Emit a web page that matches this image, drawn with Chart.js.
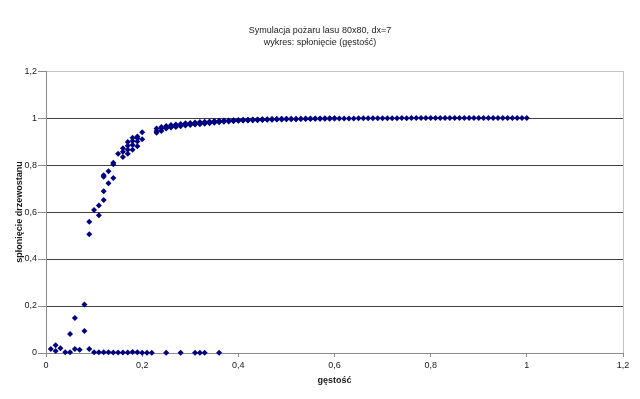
<!DOCTYPE html>
<html>
<head>
<meta charset="utf-8">
<script src="https://cdn.jsdelivr.net/npm/chart.js@4"></script>
<style>html,body{margin:0;padding:0;background:#fff}canvas{display:block}</style>
</head>
<body>
<canvas id="c" width="640" height="399"></canvas>
<script>
const titleLines = ['Symulacja pożaru lasu 80x80, dx=7', 'wykres: spłonięcie (gęstość)'];
const xAxisTitle = 'gęstość';
const yAxisTitle = 'spłonięcie drzewostanu';
const xTickLabels = ['0', '0,2', '0,4', '0,6', '0,8', '1', '1,2'];
const yTickLabels = ['0', '0,2', '0,4', '0,6', '0,8', '1', '1,2'];

const density = [
  0.01, 0.02, 0.03, 0.04, 0.05, 0.06, 0.07, 0.08, 0.09, 0.10,
  0.11, 0.12, 0.13, 0.14, 0.15, 0.16, 0.17, 0.18, 0.19, 0.20,
  0.21, 0.22, 0.23, 0.24, 0.25, 0.26, 0.27, 0.28, 0.29, 0.30,
  0.31, 0.32, 0.33, 0.34, 0.35, 0.36, 0.37, 0.38, 0.39, 0.40,
  0.41, 0.42, 0.43, 0.44, 0.45, 0.46, 0.47, 0.48, 0.49, 0.50,
  0.51, 0.52, 0.53, 0.54, 0.55, 0.56, 0.57, 0.58, 0.59, 0.60,
  0.61, 0.62, 0.63, 0.64, 0.65, 0.66, 0.67, 0.68, 0.69, 0.70,
  0.71, 0.72, 0.73, 0.74, 0.75, 0.76, 0.77, 0.78, 0.79, 0.80,
  0.81, 0.82, 0.83, 0.84, 0.85, 0.86, 0.87, 0.88, 0.89, 0.90,
  0.91, 0.92, 0.93, 0.94, 0.95, 0.96, 0.97, 0.98, 0.99, 1.00
];

const run1 = [
  0.017, 0.008, 0.020, 0.003, 0.003, 0.017, 0.014, 0.094, 0.017, 0.003,
  0.003, 0.003, 0.003, 0.002, 0.002, 0.002, 0.002, 0.004, 0.003, 0.001,
  0.001, 0.001, null, null, 0.001, null, null, 0.001, null, null,
  0.001, 0.001, 0.001, null, null, 0.001, null, null, null, null,
  null, null, null, null, null, null, null, null, null, null,
  null, null, null, null, null, null, null, null, null, null,
  null, null, null, null, null, null, null, null, null, null,
  null, null, null, null, null, null, null, null, null, null,
  null, null, null, null, null, null, null, null, null, null,
  null, null, null, null, null, null, null, null, null, null
];

const run2 = [
  null, 0.033, null, null, 0.081, 0.149, null, 0.206, 0.505, 0.609,
  0.586, 0.651, 0.722, 0.745, 0.848, 0.834, 0.848, 0.865, 0.880, 0.910,
  null, null, 0.937, 0.945, 0.955, 0.960, 0.962, 0.965, 0.968, 0.970,
  0.972, 0.974, 0.976, 0.978, 0.980, 0.982, 0.984, 0.985, 0.986, 0.988,
  0.989, 0.990, 0.991, 0.991, 0.992, 0.993, 0.993, 0.994, 0.994, 0.995,
  0.995, 0.995, 0.996, 0.996, 0.996, 0.997, 0.997, 0.997, 0.997, 0.998,
  0.998, 0.998, 0.998, 0.998, 0.999, 0.999, 0.999, 0.999, 0.999, 0.999,
  0.999, 0.999, 0.999, 1.000, 0.999, 1.000, 1.000, 1.000, 1.000, 1.000,
  1.000, 1.000, 1.000, 1.000, 1.000, 1.000, 1.000, 1.000, 1.000, 1.000,
  1.000, 1.000, 1.000, 1.000, 1.000, 1.000, 1.000, 1.000, 1.000, 1.000
];

const run3 = [
  null, null, null, null, null, null, null, null, 0.559, null,
  0.628, 0.688, 0.773, 0.803, null, 0.857, 0.865, 0.885, 0.900, 0.939,
  null, null, 0.945, 0.955, 0.960, 0.965, 0.968, 0.970, 0.973, 0.975,
  0.977, 0.979, 0.980, 0.982, 0.984, 0.985, 0.987, 0.988, 0.989, 0.990,
  0.991, 0.992, 0.992, 0.993, 0.994, 0.994, 0.995, 0.995, 0.996, 0.996,
  0.997, 0.997, 0.997, 0.998, 0.998, 0.998, 0.998, 0.999, 0.999, 0.999,
  null, null, null, null, null, null, null, null, null, null,
  null, null, null, null, null, null, null, null, null, null,
  null, null, null, null, null, null, null, null, null, null,
  null, null, null, null, null, null, null, null, null, null
];

const run4 = [
  null, null, null, null, null, null, null, null, null, null,
  null, 0.750, null, 0.810, null, 0.871, 0.882, 0.902, 0.914, null,
  null, null, 0.955, 0.962, 0.966, 0.970, 0.972, 0.975, 0.978, 0.979,
  0.981, 0.983, 0.984, 0.985, 0.987, 0.988, 0.989, 0.990, 0.991, 0.992,
  0.993, 0.993, 0.994, 0.994, 0.995, 0.995, 0.996, 0.996, 0.997, 0.997,
  null, null, null, null, null, null, null, null, null, null,
  null, null, null, null, null, null, null, null, null, null,
  null, null, null, null, null, null, null, null, null, null,
  null, null, null, null, null, null, null, null, null, null,
  null, null, null, null, null, null, null, null, null, null
];

const run5 = [
  null, null, null, null, null, null, null, null, null, null,
  null, 0.757, null, null, null, null, 0.898, 0.916, 0.921, null,
  null, null, null, null, null, null, null, null, null, null,
  null, null, null, null, null, null, null, null, null, null,
  null, null, null, null, null, null, null, null, null, null,
  null, null, null, null, null, null, null, null, null, null,
  null, null, null, null, null, null, null, null, null, null,
  null, null, null, null, null, null, null, null, null, null,
  null, null, null, null, null, null, null, null, null, null,
  null, null, null, null, null, null, null, null, null, null
];

const runs = [run1, run2, run3, run4, run5];
const points = [];
runs.forEach(run => run.forEach((v, i) => {
  if (v !== null) points.push({ x: density[i], y: v });
}));

const FONT = "'Liberation Sans', Arial, sans-serif";
const TEXT = '#1a1a1a';
const AXIS = '#8a8a96';
const GRID = '#404040';
const FRAME = '#c4c4d0';
const CLEAR = 'rgba(0,0,0,0)';

new Chart(document.getElementById('c'), {
  type: 'scatter',
  data: {
    datasets: [{
      label: 'spłonięcie',
      data: points,
      pointStyle: 'rectRot',
      pointRadius: 3,
      pointBackgroundColor: '#000080',
      pointBorderColor: '#000080',
      pointBorderWidth: 0,
      showLine: false,
      clip: false
    }]
  },
  options: {
    responsive: false,
    animation: false,
    devicePixelRatio: 1,
    layout: { padding: { left: 17, right: 17, top: 0, bottom: 0 } },
    plugins: {
      legend: { display: false },
      tooltip: { enabled: false },
      title: {
        display: true,
        text: titleLines,
        color: TEXT,
        font: { family: FONT, size: 9, weight: 'normal', lineHeight: 1.28 },
        padding: { top: 25.25, bottom: 22.75 }
      }
    },
    scales: {
      x: {
        type: 'linear',
        min: 0,
        max: 1.2,
        afterFit: s => { s.height = 46; },
        ticks: {
          stepSize: 0.2,
          autoSkip: false,
          maxRotation: 0,
          padding: 3,
          color: TEXT,
          font: { family: FONT, size: 9 },
          callback: (v, i) => xTickLabels[i]
        },
        grid: {
          drawOnChartArea: true,
          color: ctx => ctx.index === xTickLabels.length - 1 ? FRAME : CLEAR,
          tickColor: AXIS,
          tickLength: 4,
          lineWidth: 1
        },
        border: { color: AXIS, width: 1 },
        title: {
          display: true,
          text: xAxisTitle,
          color: TEXT,
          font: { family: FONT, size: 9, weight: 'bold', lineHeight: 1.2 },
          padding: { top: 0, bottom: 12.6 }
        }
      },
      y: {
        type: 'linear',
        min: 0,
        max: 1.2,
        afterFit: s => { s.width = 29; },
        ticks: {
          stepSize: 0.2,
          autoSkip: false,
          padding: 1,
          color: TEXT,
          font: { family: FONT, size: 9 },
          callback: (v, i) => yTickLabels[i]
        },
        grid: {
          color: ctx => ctx.index === 0 ? CLEAR : (ctx.index === yTickLabels.length - 1 ? FRAME : GRID),
          tickColor: AXIS,
          tickLength: 8,
          lineWidth: 1
        },
        border: { color: AXIS, width: 1 },
        title: {
          display: true,
          text: yAxisTitle,
          color: TEXT,
          font: { family: FONT, size: 9, weight: 'bold', lineHeight: 1.2 },
          padding: { top: -2.4, bottom: 0 }
        }
      }
    }
  }
});
</script>
</body>
</html>
